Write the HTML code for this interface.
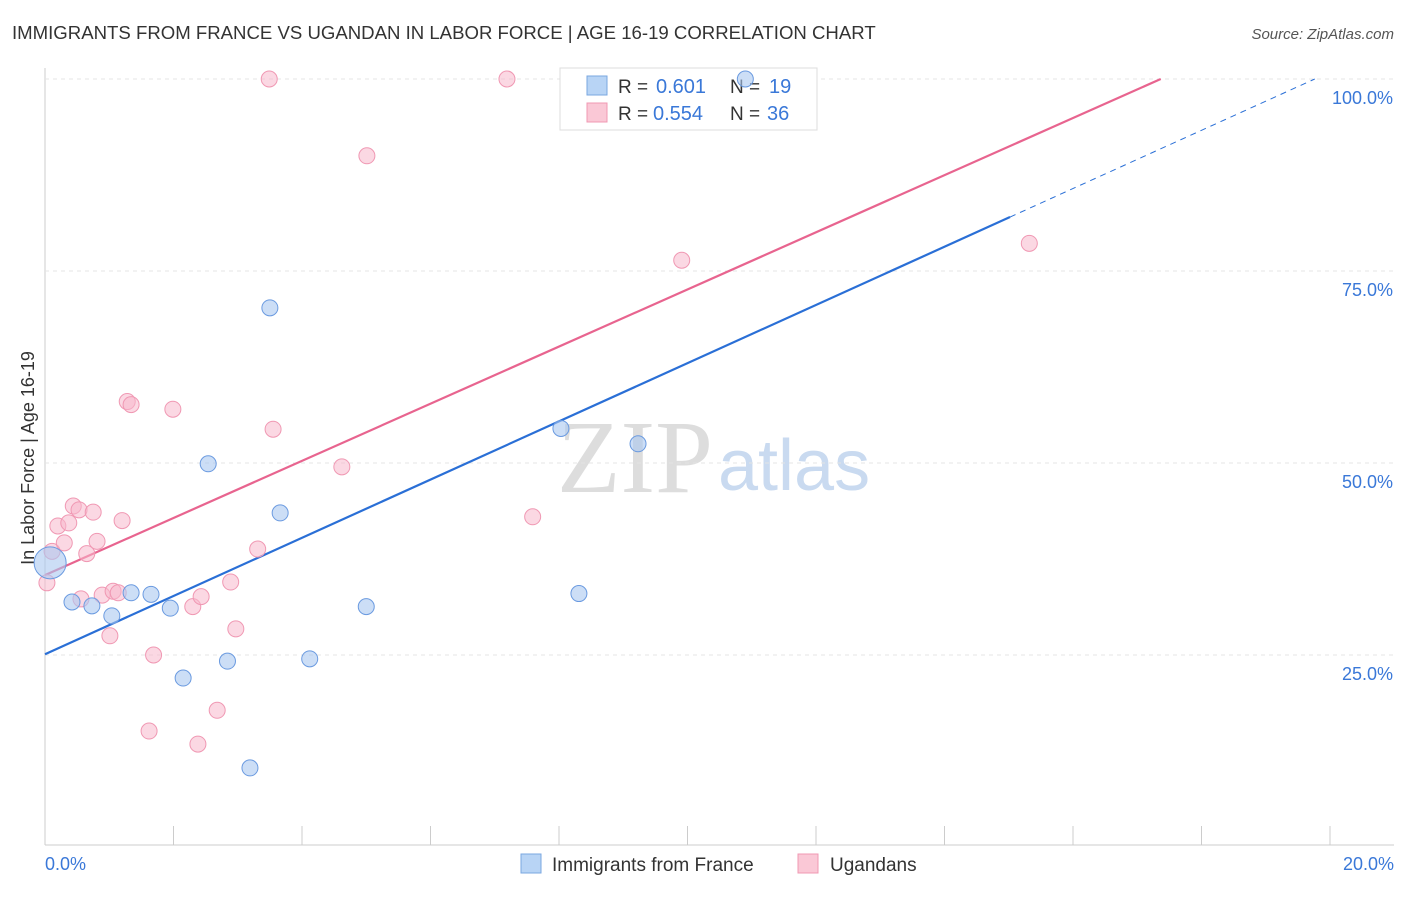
<!DOCTYPE html>
<html><head><meta charset="utf-8"><style>
body{margin:0;background:#fff;font-family:"Liberation Sans",sans-serif}
</style></head><body>
<svg id="c" width="1406" height="892" xmlns="http://www.w3.org/2000/svg">
<text x="12" y="39" font-size="18.6" fill="#333">IMMIGRANTS FROM FRANCE VS UGANDAN IN LABOR FORCE | AGE 16-19 CORRELATION CHART</text>
<text x="1394" y="39" font-size="15" fill="#555" text-anchor="end" font-style="italic">Source: ZipAtlas.com</text>
<text x="713" y="492" font-size="104" fill="#ddd" text-anchor="end" font-family="Liberation Serif,serif">ZIP</text>
<text x="718" y="490" font-size="72" fill="#c9daf0">atlas</text>
<text transform="translate(34,458) rotate(-90)" font-size="18" fill="#333" text-anchor="middle">In Labor Force | Age 16-19</text>
<g id="grid"></g><g id="lines"></g>
<g>
<rect x="560" y="68" width="257" height="62" fill="#fff" stroke="#ddd"/>
<rect x="587" y="76" width="20" height="19" fill="#b8d4f5" stroke="#7aa7e0"/>
<text x="618" y="93" font-size="19" fill="#333">R =</text><text x="656" y="93" font-size="20" fill="#3a78d8">0.601</text>
<text x="730" y="93" font-size="19" fill="#333">N =</text><text x="769" y="93" font-size="20" fill="#3a78d8">19</text>
<rect x="587" y="103" width="20" height="19" fill="#fac8d6" stroke="#f098b3"/>
<text x="618" y="120" font-size="19" fill="#333">R =</text><text x="653" y="120" font-size="20" fill="#3a78d8">0.554</text>
<text x="730" y="120" font-size="19" fill="#333">N =</text><text x="767" y="120" font-size="20" fill="#3a78d8">36</text>
</g>
<g id="pts"></g>
<g>
<rect x="521" y="854" width="20" height="19" fill="#b8d4f5" stroke="#7aa7e0"/>
<text x="552" y="871" font-size="19" fill="#333">Immigrants from France</text>
<rect x="798" y="854" width="20" height="19" fill="#fac8d6" stroke="#f098b3"/>
<text x="830" y="871" font-size="19" fill="#333">Ugandans</text>
</g>
<text x="45" y="870" font-size="18" fill="#3a78d8">0.0%</text>
<text x="1394" y="870" font-size="18" fill="#3a78d8" text-anchor="end">20.0%</text>
</svg>
<script>
const blueX=[0.08,0.42,0.73,1.04,1.34,1.65,1.95,2.15,2.54,2.84,3.19,3.50,3.66,4.12,5.00,8.03,8.31,9.23,10.9];
const blueY=[37.0,31.9,31.4,30.1,33.1,32.9,31.1,22.0,49.9,24.2,10.3,70.2,43.5,24.5,31.3,54.5,33.0,52.5,100];
const pinkX=[0.03,0.11,0.20,0.30,0.37,0.44,0.53,0.65,0.75,0.81,0.89,1.01,1.06,1.14,1.20,1.28,1.34,1.69,1.62,1.99,2.30,2.38,2.43,2.68,2.89,2.97,3.31,3.49,3.55,4.62,5.01,7.19,7.59,9.91,15.32,0.56];
const pinkY=[34.4,38.5,41.8,39.6,42.2,44.4,43.9,38.2,43.6,39.8,32.8,27.5,33.3,33.1,42.5,58.0,57.6,25.0,15.1,57.0,31.3,13.4,32.6,17.8,34.5,28.4,38.8,100,54.4,49.5,90.0,100,43.0,76.4,78.6,32.3];
const yTicks=[25,50,75,100];
const blueLine=[25.1,3.79], pinkLine=[35.4,3.72];
const X=v=>45+v/20*1285, Y=v=>847-v/100*768;
const NS="http://www.w3.org/2000/svg";
function mk(p,t,a){const e=document.createElementNS(NS,t);for(const k in a)e.setAttribute(k,a[k]);document.getElementById(p).appendChild(e);return e;}
mk('grid','line',{x1:45,y1:845,x2:1394,y2:845,stroke:'#ccc'});
mk('grid','line',{x1:45,y1:68,x2:45,y2:845,stroke:'#ccc'});
for(let i=1;i<=10;i++){const l=mk('grid','line',{x1:X(i*2),y1:826,x2:X(i*2),y2:845,stroke:'#ccc'});

}
yTicks.forEach(t=>{const l=mk('grid','line',{x1:45,y1:Y(t),x2:1394,y2:Y(t),stroke:'#e4e4e4','stroke-dasharray':'4,4'});


const tx=mk('grid','text',{x:1393,y:Y(t)+25,'font-size':18,fill:'#3a78d8','text-anchor':'end'});tx.textContent=t.toFixed(1)+'%';

});
const xe=15.02;
let l1=mk('lines','line',{x1:X(0),y1:Y(blueLine[0]),x2:X(xe),y2:Y(blueLine[0]+blueLine[1]*xe),stroke:'#2a6fd6','stroke-width':2.2});


const xd=(100-blueLine[0])/blueLine[1];
let l2=mk('lines','line',{x1:X(xe),y1:Y(blueLine[0]+blueLine[1]*xe),x2:X(xd),y2:Y(100),stroke:'#2a6fd6','stroke-width':1,'stroke-dasharray':'6,5'});


const xp=(100-pinkLine[0])/pinkLine[1];
let l3=mk('lines','line',{x1:X(0),y1:Y(pinkLine[0]),x2:X(xp),y2:Y(100),stroke:'#e8648f','stroke-width':2.2});


pinkX.forEach((x,i)=>{const c=mk('pts','circle',{cx:X(x),cy:Y(pinkY[i]),r:8,fill:'rgba(248,184,204,0.55)',stroke:'#f098b3','stroke-width':1});

});
blueX.forEach((x,i)=>{const c=mk('pts','circle',{cx:X(x),cy:Y(blueY[i]),r:i==0?16:8,fill:'rgba(170,200,240,0.6)',stroke:'#6a9ae0','stroke-width':1});

});
</script>
</body></html>
